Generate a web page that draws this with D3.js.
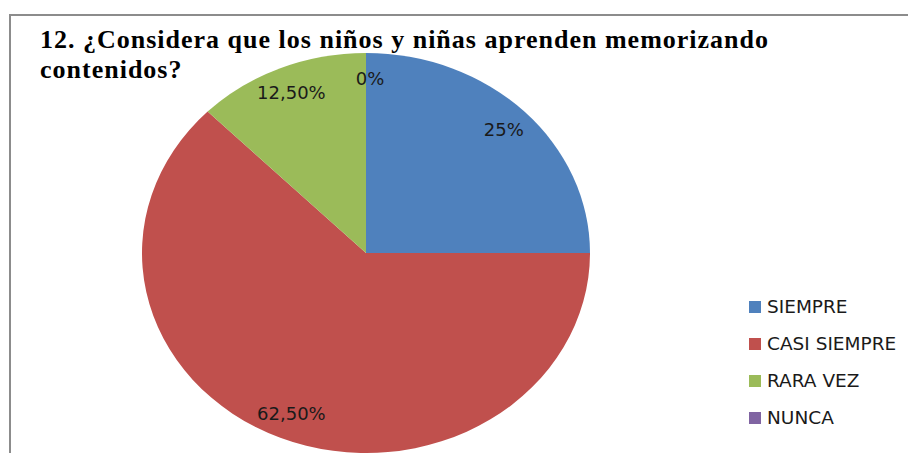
<!DOCTYPE html>
<html>
<head>
<meta charset="utf-8">
<script src="https://d3js.org/d3.v7.min.js"></script>
<style>
  body { margin: 0; background: #fff; }
</style>
</head>
<body>
<div id="chart"></div>
<script>
// Data
var categories = ["SIEMPRE", "CASI SIEMPRE", "RARA VEZ", "NUNCA"];
var values = [25, 62.5, 12.5, 0];
var labels = ["25%", "62,50%", "12,50%", "0%"];
var colors = ["#4F81BD", "#C0504D", "#9BBB59", "#8064A2"];

var width = 908, height = 453;

var svg = d3.select("#chart")
  .append("svg")
    .attr("width", width)
    .attr("height", height);

// Chart frame (runs past the bottom and right edge)
svg.append("rect")
  .attr("x", 10)
  .attr("y", 15)
  .attr("width", 920)
  .attr("height", 460)
  .style("fill", "none")
  .style("stroke", "#8c8c8c")
  .style("stroke-width", 2);

// Pie (slightly stretched horizontally, like the original)
var r = 200, sx = 1.12;
var cx = 366, cy = 253;

var pie = d3.pie()
  .sort(null)
  .value(function (d) { return d; });

var arcs = pie(values);

var arc = d3.arc()
  .innerRadius(0)
  .outerRadius(r);

var labelArc = d3.arc()
  .innerRadius(r * 0.87)
  .outerRadius(r * 0.87);

var g = svg.append("g")
  .attr("transform", "translate(" + cx + "," + cy + ") scale(" + sx + ",1)");

g.selectAll("path")
  .data(arcs)
  .enter()
  .append("path")
    .attr("d", arc)
    .style("fill", function (d, i) { return colors[i]; });

// Data labels
svg.selectAll(".lbl")
  .data(arcs)
  .enter()
  .append("text")
    .attr("class", "lbl")
    .attr("x", function (d, i) {
      var c = labelArc.centroid(d);
      return cx + c[0] * sx + (i === 3 ? 4 : 0);
    })
    .attr("y", function (d) { return cy + labelArc.centroid(d)[1]; })
    .attr("dy", "0.35em")
    .attr("text-anchor", "middle")
    .style("font-family", "DejaVu Sans, sans-serif")
    .style("font-size", "18px")
    .style("fill", "#1a1a1a")
    .text(function (d, i) { return labels[i]; });

// Title
var title = svg.append("text")
  .attr("x", 40)
  .attr("y", 48)
  .style("font-family", "Liberation Serif, serif")
  .style("font-weight", "bold")
  .style("font-size", "26px")
  .style("letter-spacing", "1px")
  .style("fill", "#000");
title.append("tspan")
  .attr("x", 40)
  .text("12. ¿Considera que los niños y niñas aprenden memorizando");
title.append("tspan")
  .attr("x", 40)
  .attr("dy", 30)
  .text("contenidos?");

// Legend
var legend = svg.selectAll(".legend")
  .data(categories)
  .enter()
  .append("g")
    .attr("class", "legend")
    .attr("transform", function (d, i) {
      return "translate(749," + (307 + i * 37) + ")";
    });

legend.append("rect")
  .attr("x", 0)
  .attr("y", -6)
  .attr("width", 12)
  .attr("height", 12)
  .style("fill", function (d, i) { return colors[i]; });

legend.append("text")
  .attr("x", 18)
  .attr("y", 0)
  .attr("dy", "0.35em")
  .style("font-family", "DejaVu Sans, sans-serif")
  .style("font-size", "18.5px")
  .style("fill", "#1a1a1a")
  .text(function (d) { return d; });
</script>
</body>
</html>
